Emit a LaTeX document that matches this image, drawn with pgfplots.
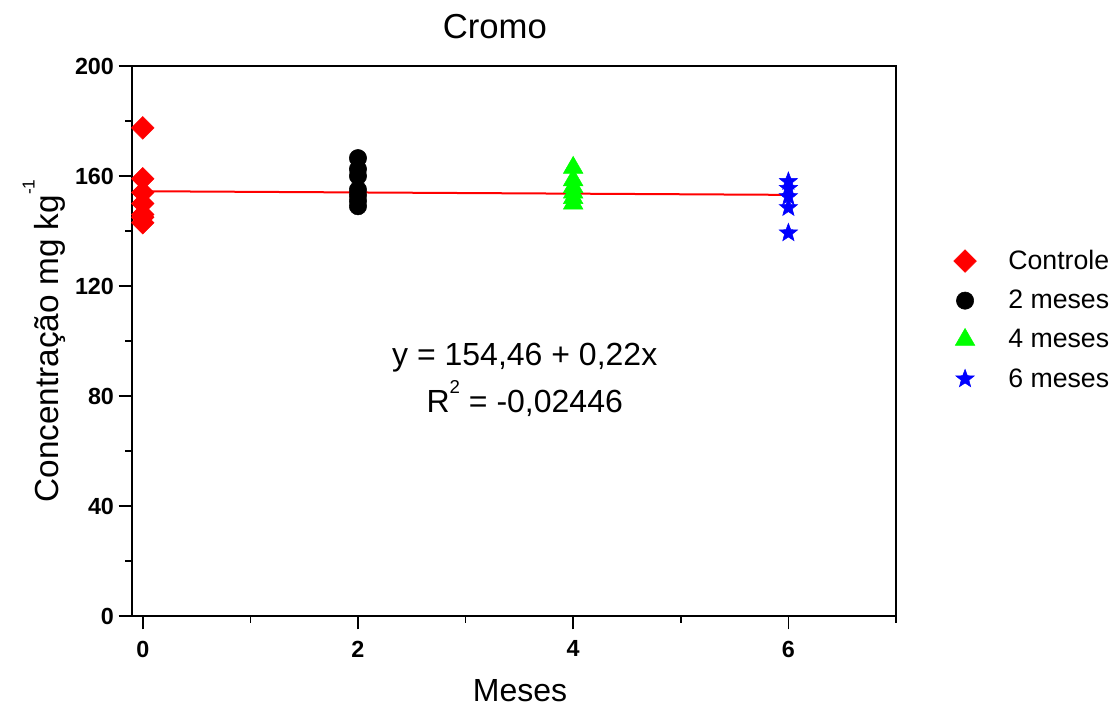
\documentclass[border=0pt]{standalone}
\usepackage{fontspec}
\setmainfont{Liberation Sans}
\usepackage{pgfplots}
\pgfplotsset{compat=1.18}
\definecolor{cred}{RGB}{255,0,0}
\definecolor{cgreen}{RGB}{0,255,0}
\definecolor{cblue}{RGB}{0,0,255}
\pgfdeclareplotmark{fstar}{%
  \pgfpathmoveto{\pgfqpointpolar{90}{\pgfplotmarksize}}%
  \pgfpathlineto{\pgfqpointpolar{126}{0.42\pgfplotmarksize}}%
  \pgfpathlineto{\pgfqpointpolar{162}{\pgfplotmarksize}}%
  \pgfpathlineto{\pgfqpointpolar{198}{0.42\pgfplotmarksize}}%
  \pgfpathlineto{\pgfqpointpolar{234}{\pgfplotmarksize}}%
  \pgfpathlineto{\pgfqpointpolar{270}{0.42\pgfplotmarksize}}%
  \pgfpathlineto{\pgfqpointpolar{306}{\pgfplotmarksize}}%
  \pgfpathlineto{\pgfqpointpolar{342}{0.42\pgfplotmarksize}}%
  \pgfpathlineto{\pgfqpointpolar{18}{\pgfplotmarksize}}%
  \pgfpathlineto{\pgfqpointpolar{54}{0.42\pgfplotmarksize}}%
  \pgfpathclose
  \pgfusepathqfillstroke}
\begin{document}
\begin{tikzpicture}
\useasboundingbox (-99pt,-71.25pt) rectangle (739.5pt,462pt);
\begin{axis}[
  scale only axis, width=573pt, height=412.5pt,
  xmin=-0.1, xmax=7, ymin=0, ymax=200,
  xtick={0,2,4,6}, minor xtick={1,3,5,7},
  ytick={0,40,80,120,160,200}, minor ytick={20,60,100,140,180},
  tick align=outside, tick pos=left,
  major tick length=10pt, minor tick length=5pt,
  axis line style={line width=1.5pt},
  every tick/.style={black, line width=1.2pt},
  ticklabel style={font=\fontsize{17.5}{19}\selectfont\bfseries},
  xticklabel style={yshift=-5pt},
  /pgf/number format/assume math mode=true,
  xlabel={Meses},
  ylabel={Concentração mg kg\raisebox{0.72em}{\fontsize{13}{13}\selectfont -1}},
  xlabel style={font=\fontsize{24}{28}\selectfont, at={(axis description cs:0.508,-0.135)}, anchor=center},
  ylabel style={font=\fontsize{25}{28}\selectfont, at={(axis description cs:-0.115,0.5)}, anchor=center},
  title={Cromo},
  title style={font=\fontsize{26}{30}\selectfont, at={(axis description cs:0.475,1.058)}, anchor=center},
  legend style={draw=none, fill=none, at={(axis description cs:1.07,0.675)}, anchor=north west,
    font=\fontsize{20}{24}\selectfont, row sep=10pt, nodes={inner xsep=12pt},
    /tikz/every odd column/.append style={column sep=12pt}},
  legend cell align=left,
]
\addplot[only marks, mark=square*, mark size=6pt, mark options={rotate=45, fill=cred, draw=cred}]
  coordinates {(0,177.5) (0,159) (0,154) (0,150) (0,146) (0,145) (0,143)};
\addlegendentry{Controle}
\addplot[only marks, mark=*, mark size=6.5pt, mark options={fill=black, draw=black}]
  coordinates {(2,166.5) (2,162.5) (2,160) (2,155) (2,153) (2,151) (2,149)};
\addlegendentry{2 meses}
\addplot[only marks, mark=triangle*, mark size=8.5pt, mark options={fill=cgreen, draw=cgreen}]
  coordinates {(4,163) (4,158.5) (4,156) (4,154) (4,152) (4,150)};
\addlegendentry{4 meses}
\addplot[only marks, mark=fstar, mark size=7.2pt, mark options={fill=cblue, draw=cblue}]
  coordinates {(6,158) (6,155.5) (6,152.5) (6,148.5) (6,139.3)};
\addlegendentry{6 meses}
\addplot[cred, line width=1.5pt, forget plot] coordinates {(0,154.46) (6,153.14)};
\node[font=\fontsize{24}{28}\selectfont, anchor=center] at (axis cs:3.55,94) {y = 154,46 + 0,22x};
\node[font=\fontsize{24}{28}\selectfont, anchor=center] at (axis cs:3.55,79) {R\raisebox{0.6em}{\fontsize{14}{14}\selectfont 2} = -0,02446};
\end{axis}
\end{tikzpicture}
\end{document}
